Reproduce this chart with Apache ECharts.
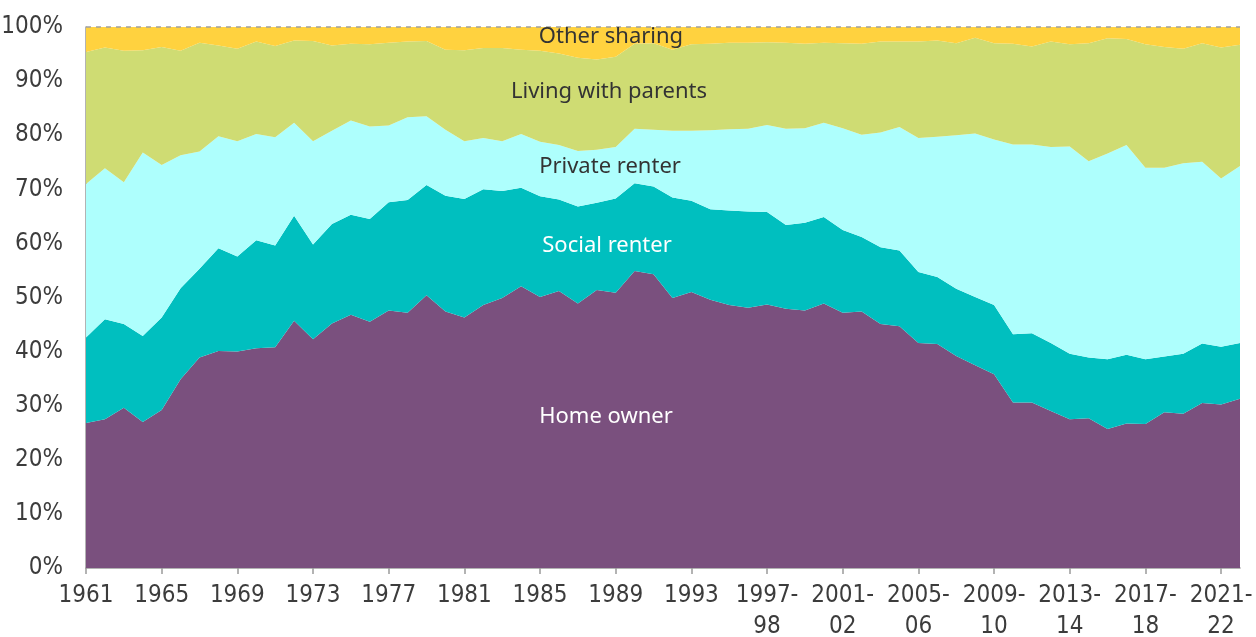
<!DOCTYPE html>
<html>
<head>
<meta charset="utf-8">
<title>Housing tenure</title>
<script src="https://cdn.jsdelivr.net/npm/echarts@6/dist/echarts.min.js"></script>
<style>
  html, body { margin: 0; padding: 0; background: #fff; }
  #chart { width: 1256px; height: 637px; }
</style>
</head>
<body>
<div id="chart"></div>
<script>
// categories: calendar years to 1993, then financial years
const categories = [
  '1961','1962','1963','1964','1965','1966','1967','1968','1969','1970',
  '1971','1972','1973','1974','1975','1976','1977','1978','1979','1980',
  '1981','1982','1983','1984','1985','1986','1987','1988','1989','1990',
  '1991','1992','1993','1994-95','1995-96','1996-97','1997-98','1998-99','1999-00','2000-01',
  '2001-02','2002-03','2003-04','2004-05','2005-06','2006-07','2007-08','2008-09','2009-10','2010-11',
  '2011-12','2012-13','2013-14','2014-15','2015-16','2016-17','2017-18','2018-19','2019-20','2020-21',
  '2021-22','2022-23'
];

// shares, per cent
const homeOwner = [
  26.8, 27.5, 29.6, 27.0, 29.2, 34.9, 38.9, 40.1, 40.0, 40.6,
  40.8, 45.7, 42.3, 45.2, 46.8, 45.5, 47.6, 47.2, 50.4, 47.4,
  46.3, 48.6, 49.9, 52.1, 50.1, 51.2, 48.9, 51.4, 50.9, 54.9,
  54.3, 49.9, 51.0, 49.6, 48.6, 48.1, 48.7, 47.9, 47.6, 48.9,
  47.2, 47.4, 45.1, 44.7, 41.6, 41.4, 39.2, 37.5, 35.8, 30.6,
  30.6, 29.0, 27.5, 27.7, 25.7, 26.7, 26.6, 28.8, 28.5, 30.5,
  30.2, 31.3
];
const socialRenter = [
  15.8, 18.5, 15.5, 15.9, 17.1, 16.8, 16.4, 19.0, 17.6, 20.0,
  18.8, 19.4, 17.5, 18.4, 18.5, 19.0, 20.0, 20.8, 20.4, 21.4,
  21.9, 21.4, 19.8, 18.2, 18.6, 16.9, 17.9, 16.1, 17.4, 16.2,
  16.2, 18.6, 16.9, 16.7, 17.5, 17.8, 17.1, 15.5, 16.2, 16.0,
  15.3, 13.8, 14.2, 14.0, 13.1, 12.4, 12.4, 12.6, 12.8, 12.6,
  12.8, 12.6, 12.1, 11.2, 12.9, 12.7, 12.0, 10.3, 11.1, 11.0,
  10.7, 10.3
];
const privateRenter = [
  28.4, 27.9, 26.2, 33.9, 28.2, 24.6, 21.7, 20.7, 21.3, 19.6,
  20.0, 17.2, 19.1, 17.2, 17.4, 17.1, 14.2, 15.3, 12.7, 12.2,
  10.7, 9.5, 9.2, 9.9, 10.1, 10.1, 10.3, 9.8, 9.5, 10.1,
  10.5, 12.3, 12.9, 14.6, 15.0, 15.3, 16.1, 17.8, 17.5, 17.4,
  18.8, 18.9, 21.2, 22.8, 24.8, 25.9, 28.4, 30.2, 30.6, 35.1,
  34.9, 36.2, 38.3, 36.3, 38.0, 38.8, 35.4, 34.9, 35.2, 33.6,
  31.1, 32.7
];
const withParents = [
  24.4, 22.3, 24.3, 18.9, 21.8, 19.3, 20.1, 16.8, 17.1, 17.1,
  16.9, 15.2, 18.5, 15.8, 14.2, 15.2, 15.3, 14.0, 13.9, 14.8,
  16.8, 16.6, 17.2, 15.6, 16.8, 16.9, 17.2, 16.7, 16.7, 15.7,
  16.0, 15.0, 16.0, 16.0, 16.0, 15.9, 15.3, 15.9, 15.6, 14.8,
  15.7, 16.8, 16.8, 15.8, 17.8, 17.8, 17.0, 17.7, 17.8, 18.6,
  18.1, 19.5, 18.9, 21.8, 21.3, 19.6, 22.8, 22.3, 21.2, 21.9,
  24.2, 22.4
];
const otherSharing = [
  4.6, 3.8, 4.4, 4.3, 3.7, 4.4, 2.9, 3.4, 4.0, 2.7,
  3.5, 2.5, 2.6, 3.4, 3.1, 3.2, 2.9, 2.7, 2.6, 4.2,
  4.3, 3.9, 3.9, 4.2, 4.4, 4.9, 5.7, 6.0, 5.5, 3.1,
  3.0, 4.2, 3.2, 3.1, 2.9, 2.9, 2.8, 2.9, 3.1, 2.9,
  3.0, 3.1, 2.7, 2.7, 2.7, 2.5, 3.0, 2.0, 3.0, 3.1,
  3.6, 2.7, 3.2, 3.0, 2.1, 2.2, 3.2, 3.7, 4.0, 3.0,
  3.8, 3.3
];

const seriesList = [
  { name: 'Home owner', data: homeOwner, color: '#7a507e' },
  { name: 'Social renter', data: socialRenter, color: '#00bfbf' },
  { name: 'Private renter', data: privateRenter, color: '#aefffd' },
  { name: 'Living with parents', data: withParents, color: '#cfdc73' },
  { name: 'Other sharing', data: otherSharing, color: '#ffd23f' }
];

// in-chart series labels
const labelFont = '"Noto Sans", Lato, sans-serif';
const areaLabels = [
  { text: 'Other sharing', x: 611, y: 37, fill: '#333333' },
  { text: 'Living with parents', x: 609, y: 92, fill: '#333333' },
  { text: 'Private renter', x: 610, y: 167, fill: '#333333' },
  { text: 'Social renter', x: 607, y: 246, fill: '#ffffff' },
  { text: 'Home owner', x: 606, y: 417, fill: '#ffffff' }
];

const axisFont = '"Liberation Sans Narrow", "DejaVu Sans Condensed", Roboto, sans-serif';

const chart = echarts.init(document.getElementById('chart'), null, { renderer: 'canvas' });

const option = {
  animation: false,
  grid: { left: 86, right: 16, top: 27, bottom: 69, containLabel: false, outerBoundsMode: 'none' },
  xAxis: {
    type: 'category',
    data: categories,
    boundaryGap: false,
    axisLine: { lineStyle: { color: '#9a9a9a', width: 1.5 } },
    axisTick: { interval: 3, length: 6, lineStyle: { color: '#9a9a9a', width: 1.5 } },
    axisLabel: {
      interval: 3,
      color: '#3c3c3c',
      fontSize: 24,
      fontFamily: axisFont,
      lineHeight: 31,
      margin: 12,
      formatter: v => v.replace('-', '-\n')
    },
    splitLine: { show: false }
  },
  yAxis: {
    type: 'value',
    min: 0,
    max: 100,
    interval: 10,
    axisLine: { show: true, lineStyle: { color: '#9a9a9a', width: 1.5 } },
    axisTick: { show: false },
    axisLabel: {
      color: '#3c3c3c',
      fontSize: 24,
      fontFamily: axisFont,
      margin: 23,
      formatter: '{value}%'
    },
    splitLine: { show: false }
  },
  series: seriesList.map((s, i) => ({
    name: s.name,
    type: 'line',
    stack: 'tenure',
    data: s.data,
    showSymbol: false,
    symbol: 'none',
    lineStyle: { width: 0 },
    areaStyle: { color: s.color, opacity: 1 },
    itemStyle: { color: s.color },
    emphasis: { disabled: true },
    markLine: i === seriesList.length - 1 ? {
      silent: true,
      symbol: 'none',
      label: { show: false },
      lineStyle: { color: '#a0a0a0', type: [5, 5], width: 1.5 },
      data: [{ yAxis: 100 }]
    } : undefined
  })),
  graphic: areaLabels.map(l => ({
    type: 'text',
    x: l.x,
    y: l.y,
    z: 100,
    style: {
      text: l.text,
      fill: l.fill,
      font: '22px ' + labelFont,
      textAlign: 'center',
      textVerticalAlign: 'middle'
    }
  }))
};

chart.setOption(option);
</script>
</body>
</html>
